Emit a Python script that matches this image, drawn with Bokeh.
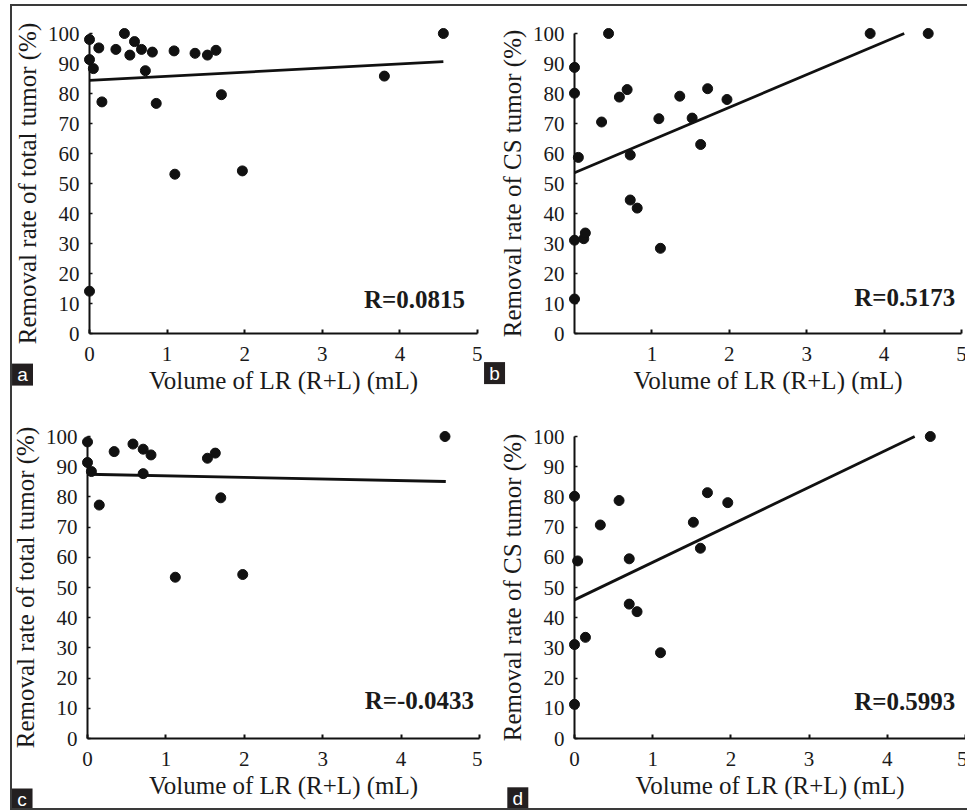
from bokeh.plotting import figure
from bokeh.layouts import column, row
from bokeh.models import FixedTicker, Label, InlineStyleSheet
from bokeh.core.properties import value
from bokeh.embed import file_html
from bokeh.resources import INLINE

# ---------------- data ----------------
XLABEL = "Volume of LR (R+L) (mL)"
YLABEL_TOTAL = "Removal rate of total tumor (%)"
YLABEL_CS = "Removal rate of CS tumor (%)"
Y_TICKS = [0, 10, 20, 30, 40, 50, 60, 70, 80, 90, 100]
X_TICKS_FULL = [0, 1, 2, 3, 4, 5]
X_TICKS_B = [1, 2, 3, 4, 5]

# panel a: total tumor, all cases
a_x = [0.00, 0.00, 0.05, 0.12, 0.16, 0.34, 0.45, 0.52, 0.58, 0.67, 0.72, 0.81,
       0.86, 1.09, 1.10, 1.36, 1.52, 1.63, 1.70, 1.97, 3.80, 4.56, 0.00]
a_y = [98.0, 91.3, 88.3, 95.2, 77.2, 94.7, 100.0, 92.8, 97.3, 94.7, 87.6, 93.8,
       76.7, 94.2, 53.1, 93.4, 92.8, 94.4, 79.6, 54.2, 85.8, 100.0, 14.1]
a_fit_x = [0.0, 4.56]
a_fit_y = [84.4, 90.6]
a_r = "R=0.0815"

# panel b: CS tumor, all cases
b_x = [0.44, 3.82, 4.57, 0.00, 0.00, 0.58, 0.68, 0.35, 0.05, 0.72, 1.09, 1.36,
       1.52, 1.63, 1.72, 1.97, 0.72, 0.81, 0.00, 0.12, 0.14, 1.11, 0.00]
b_y = [100.0, 100.0, 100.0, 88.7, 80.1, 78.8, 81.3, 70.5, 58.7, 59.5, 71.6, 79.1,
       71.8, 63.0, 81.6, 78.0, 44.5, 41.8, 31.1, 31.6, 33.5, 28.4, 11.5]
b_fit_x = [0.0, 4.26]
b_fit_y = [53.6, 100.0]
b_r = "R=0.5173"

# panel c: total tumor, subset
c_x = [0.00, 0.00, 0.05, 0.15, 0.34, 0.58, 0.71, 0.81, 0.71, 1.53, 1.63, 1.70,
       1.12, 1.98, 4.56]
c_y = [98.2, 91.4, 88.4, 77.3, 95.0, 97.5, 95.8, 93.9, 87.7, 92.8, 94.5, 79.7,
       53.4, 54.3, 100.0]
c_fit_x = [0.0, 4.57]
c_fit_y = [87.5, 85.1]
c_r = "R=-0.0433"

# panel d: CS tumor, subset
d_x = [0.00, 0.04, 0.00, 0.00, 0.14, 0.33, 0.57, 0.70, 0.70, 0.80, 1.10, 1.52,
       1.61, 1.70, 1.96, 4.55]
d_y = [80.2, 58.8, 31.1, 11.3, 33.5, 70.7, 78.8, 59.5, 44.5, 42.0, 28.4, 71.6,
       63.0, 81.4, 78.1, 100.0]
d_fit_x = [0.0, 4.35]
d_fit_y = [45.9, 100.0]
d_r = "R=0.5993"

SERIF = "'Liberation Serif', 'Times New Roman', Times, serif"
SANS = "'Liberation Sans', Arial, sans-serif"
INK = "#111111"
TXT = "#1a1a1a"


def make_panel(xs, ys, fx, fy, rtext, rpos, ylabel, xticks, geom, letter, letter_pos):
    w, h, bl, br, bt, bb = geom
    p = figure(width=w, height=h, x_range=(0, 5), y_range=(0, 100),
               output_backend="svg", toolbar_location=None,
               min_border_left=bl, min_border_right=br,
               min_border_top=bt, min_border_bottom=bb)
    p.grid.visible = False
    p.outline_line_color = None
    p.background_fill_color = "white"
    p.border_fill_color = "white"

    # axes
    p.xaxis.ticker = FixedTicker(ticks=xticks)
    p.yaxis.ticker = FixedTicker(ticks=Y_TICKS)
    p.xaxis.axis_label = XLABEL
    p.yaxis.axis_label = ylabel
    for ax in (p.xaxis, p.yaxis):
        ax.axis_line_color = INK
        ax.axis_line_width = 2
        ax.major_tick_line_color = INK
        ax.minor_tick_line_color = None
        ax.major_tick_out = 0
        ax.major_label_text_font = SERIF
        ax.major_label_text_font_size = "21px"
        ax.major_label_text_color = TXT
        ax.axis_label_text_font = SERIF
        ax.axis_label_text_font_size = "25px"
        ax.axis_label_text_font_style = "normal"
        ax.axis_label_text_color = TXT
    p.xaxis.major_tick_in = 4
    p.xaxis.major_tick_line_width = 2
    p.xaxis.major_label_standoff = 13
    p.xaxis.axis_label_standoff = 3
    p.yaxis.major_tick_in = 3
    p.yaxis.major_tick_line_width = 1.5
    p.yaxis.major_label_standoff = 10
    p.yaxis.axis_label_standoff = 4

    # regression line and points
    ln = p.line(fx, fy, line_color=INK, line_width=2.8)
    ln.level = "overlay"
    sc = p.scatter(xs, ys, size=10, marker="circle", fill_color=INK, line_color=INK)
    sc.level = "overlay"

    # correlation label
    p.add_layout(Label(x=rpos[0], y=rpos[1], text=rtext, text_align="right",
                       text_baseline="alphabetic", text_font=SERIF,
                       text_font_size="25px", text_font_style="bold",
                       text_color=TXT))

    # panel letter: white letter on a dark square below-left of the frame
    bx = p.rect(x=[letter_pos[0]], y=[letter_pos[1]], width=21, height=22,
                width_units="screen", height_units="screen",
                fill_color="#231f20", line_color=None)
    bx.level = "overlay"
    tx = p.text(x=[letter_pos[0]], y=[letter_pos[1]], text=[letter],
                text_font=value(SANS), text_font_size=value("19px"),
                text_align="center", text_baseline="middle", text_color="white")
    tx.level = "overlay"
    return p


pa = make_panel(a_x, a_y, a_fit_x, a_fit_y, a_r, (4.84, 11.4), YLABEL_TOTAL, X_TICKS_FULL,
                (482, 400, 89, 5, 33, 67), "a", (-0.863, -13.7))
pb = make_panel(b_x, b_y, b_fit_x, b_fit_y, b_r, (4.92, 12.1), YLABEL_CS, X_TICKS_B,
                (485, 400, 92, 6, 33, 64), "b", (-1.033, -13.2))
pc = make_panel(c_x, c_y, c_fit_x, c_fit_y, c_r, (4.93, 12.5), YLABEL_TOTAL, X_TICKS_FULL,
                (482, 410, 87, 3, 36, 72), "c", (-0.835, -20.2))
pd_ = make_panel(d_x, d_y, d_fit_x, d_fit_y, d_r, (4.87, 12.1), YLABEL_CS, X_TICKS_FULL,
                 (485, 410, 92, 2, 35, 72), "d", (-0.725, -19.8))

# thin frame around the composite (left, top and bottom edges only);
# the first layer keeps the right-most pixels white
frame_css = InlineStyleSheet(css="""
:host { position: relative; }
:host::after {
  content: "";
  position: absolute;
  left: 10px; top: 4px; right: 0px; bottom: 0px;
  border: none;
  background:
    linear-gradient(#ffffff, #ffffff) right 6px / 2px calc(100% - 8px) no-repeat,
    linear-gradient(#3a3a3a, #3a3a3a) left top / 100% 2px no-repeat,
    linear-gradient(#3a3a3a, #3a3a3a) left bottom / 100% 2px no-repeat,
    linear-gradient(#3a3a3a, #3a3a3a) left top / 2px 100% no-repeat;
  pointer-events: none;
  z-index: 100;
}
""")

layout = column(row(pa, pb), row(pc, pd_), stylesheets=[frame_css])

open("out.html", "w").write(file_html(layout, INLINE))
